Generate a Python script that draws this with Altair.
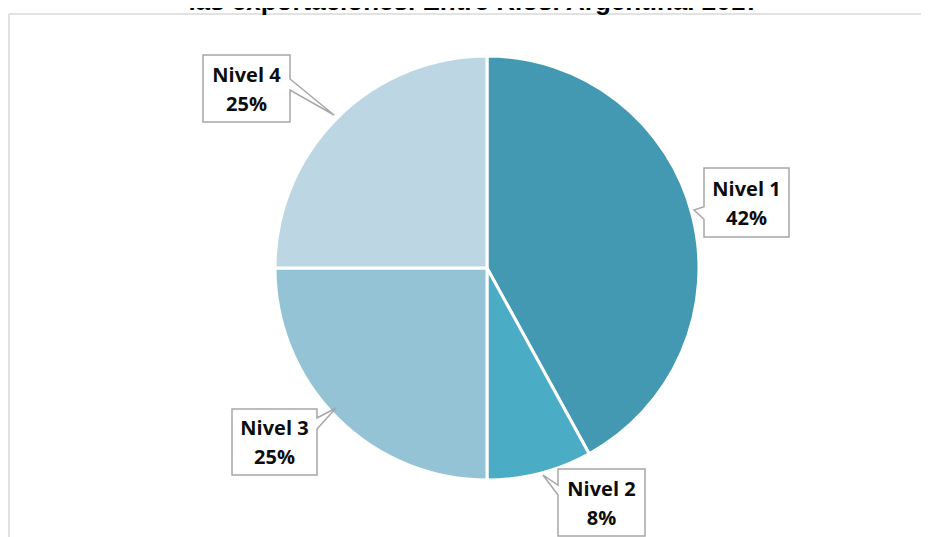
import altair as alt
import pandas as pd

# ---- data ----
categories = ["Nivel 1", "Nivel 2", "Nivel 3", "Nivel 4"]
values = [42, 8, 25, 25]
colors = ["#4399B1", "#4BACC6", "#93C3D4", "#BCD7E3"]
title_text = "las exportaciones. Entre Ríos. Argentina. 2017"

# ---- layout (pixels in chart coordinates) ----
W, H = 913, 529
CX, CY, R = 479, 260, 212
callout_pos = {
    "Nivel 1": (738.5, 194.5, "M-42.5,-34.5 L42.5,-34.5 L42.5,34.5 L-42.5,34.5 L-42.5,16.8 L-52.5,7.5 L-42.5,4.2 Z"),
    "Nivel 2": (593.5, 494.5, "M-43.5,-33.5 L43.5,-33.5 L43.5,33.5 L-43.5,33.5 L-43.5,-7.5 L-58.5,-27.5 L-43.5,-17.5 Z"),
    "Nivel 3": (266.5, 434, "M-42.5,-33 L42.5,-33 L42.5,-24 L61.5,-34 L42.5,-13 L42.5,33 L-42.5,33 Z"),
    "Nivel 4": (238.5, 80.5, "M-43.5,-33.5 L43.5,-33.5 L43.5,-9.5 L87.5,26.5 L43.5,1.5 L43.5,33.5 L-43.5,33.5 Z"),
}

pie_df = pd.DataFrame({
    "cat": categories,
    "value": values,
    "order": list(range(len(categories))),
})

lab_df = pd.DataFrame({
    "cat": categories,
    "label": [f"{c}\n{v}%" for c, v in zip(categories, values)],
    "cx": [callout_pos[c][0] for c in categories],
    "cy": [callout_pos[c][1] for c in categories],
    "ty": [callout_pos[c][1] - 13 for c in categories],
    "path": [callout_pos[c][2] for c in categories],
})

dummy = pd.DataFrame({"a": [0]})

frame_top = alt.Chart(dummy).mark_rule(color="#d9d9d9", strokeWidth=1.5).encode(
    x=alt.value(1), x2=alt.value(921), y=alt.value(6)
)
frame_left = alt.Chart(dummy).mark_rule(color="#d9d9d9", strokeWidth=1.5).encode(
    x=alt.value(1), y=alt.value(6), y2=alt.value(H + 10)
)

pie = alt.Chart(pie_df).mark_arc(radius=R, stroke="white", strokeWidth=3).encode(
    theta=alt.Theta("value:Q", stack=True),
    color=alt.Color("cat:N", scale=alt.Scale(domain=categories, range=colors), legend=None),
    order=alt.Order("order:Q"),
    x=alt.value(CX),
    y=alt.value(CY),
)

boxes = alt.Chart(lab_df).mark_point(
    size=4, filled=True, fill="white", stroke="#a6a6a6", strokeWidth=1.5, opacity=1
).encode(
    x=alt.X("cx:Q", scale=None, axis=None),
    y=alt.Y("cy:Q", scale=None, axis=None),
    shape=alt.Shape("path:N", scale=None, legend=None),
)

texts = alt.Chart(lab_df).mark_text(
    font="Open Sans", fontWeight="bold", fontSize=20, lineBreak="\n", lineHeight=29,
    baseline="middle", align="center", color="#0d0d0d"
).encode(
    x=alt.X("cx:Q", scale=None, axis=None),
    y=alt.Y("ty:Q", scale=None, axis=None),
    text="label:N",
)

title = alt.Chart(pd.DataFrame({"t": [title_text]})).mark_text(
    font="Liberation Sans", fontWeight="bold", fontSize=26, align="center",
    baseline="alphabetic", color="#000000"
).encode(
    x=alt.value(466), y=alt.value(2), text="t:N"
)

chart = alt.layer(frame_top, frame_left, pie, boxes, texts, title).properties(
    width=W, height=H, autosize=alt.AutoSizeParams(type="none"), padding=0,
    background="white"
).configure_view(strokeWidth=0)

chart.save("out.html", embed_options={"renderer": "svg", "actions": False})
